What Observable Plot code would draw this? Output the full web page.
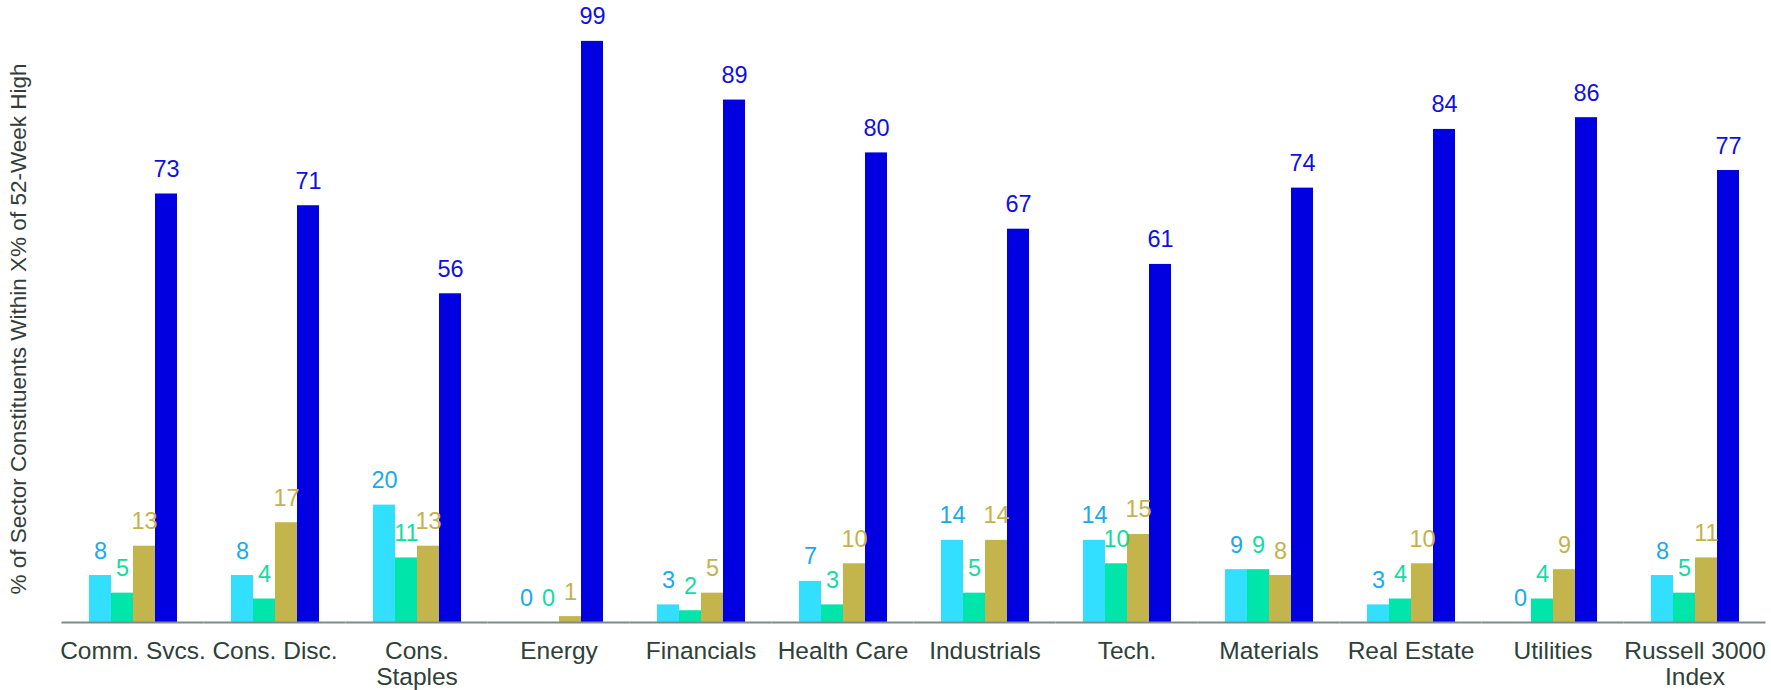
<!DOCTYPE html>
<html>
<head>
<meta charset="utf-8">
<script src="https://cdn.jsdelivr.net/npm/d3@7"></script>
<script src="https://cdn.jsdelivr.net/npm/@observablehq/plot@0.6"></script>
<style>
  html, body { margin: 0; padding: 0; background: #fff; }
  #chart svg { display: block; }
</style>
</head>
<body>
<div id="chart"></div>
<script>
const sectors = ["Comm. Svcs.", "Cons. Disc.", "Cons.\nStaples", "Energy", "Financials", "Health Care", "Industrials", "Tech.", "Materials", "Real Estate", "Utilities", "Russell 3000\nIndex"];
const series = ["Series 1", "Series 2", "Series 3", "Series 4"];
const series1 = [8, 8, 20, 0, 3, 7, 14, 14, 9, 3, 0, 8];
const series2 = [5, 4, 11, 0, 2, 3, 5, 10, 9, 4, 4, 5];
const series3 = [13, 17, 13, 1, 5, 10, 14, 15, 8, 10, 9, 11];
const series4 = [73, 71, 56, 99, 89, 80, 67, 61, 74, 84, 86, 77];
const barColors = ["#33dfff", "#00e5a9", "#c3b44b", "#0000e1"];
const labelColors = ["#1aa8ee", "#12dca2", "#c4b24a", "#1010e0"];
const yTitle = "% of Sector Constituents Within X% of 52-Week High";

const allSeries = [series1, series2, series3, series4];
const data = [];
sectors.forEach((s, i) => {
  series.forEach((k, j) => {
    data.push({sector: s, series: k, value: allSeries[j][i], si: j});
  });
});

const font = "'Liberation Sans', Arial, sans-serif";

const chart = Plot.plot({
  width: 1771,
  height: 690,
  marginLeft: 57,
  marginRight: 0,
  marginTop: 35,
  marginBottom: 68,
  style: {fontFamily: font, background: "#fff"},
  fx: {domain: sectors, paddingInner: 0.356, paddingOuter: 0.178, axis: null},
  x: {domain: series, padding: 0, axis: null},
  y: {domain: [0, 100], axis: null},
  color: {domain: series, range: barColors},
  marks: [
    Plot.barY(data, {fx: "sector", x: "series", y: "value", fill: "series"}),
    Plot.ruleY([0], {stroke: "#7d8b89", strokeWidth: 2, insetLeft: -25.5, insetRight: -25.5}),
    Plot.text(data, {
      fx: "sector", x: "series", y: "value",
      text: d => String(d.value),
      fill: d => labelColors[d.si],
      lineAnchor: "bottom", dy: -17, fontSize: 23.5
    }),
    Plot.axisFx({anchor: "bottom", tickSize: 0, tickPadding: 18, fontSize: 24.5, lineHeight: 1.06, label: null, fill: "#2e4038"}),
    Plot.axisY({ticks: [], tickSize: 0, label: yTitle, labelAnchor: "center", labelArrow: "none", labelOffset: 77, fontSize: 22.5, fill: "#333d39"})
  ]
});
document.getElementById("chart").appendChild(chart);
</script>
</body>
</html>
